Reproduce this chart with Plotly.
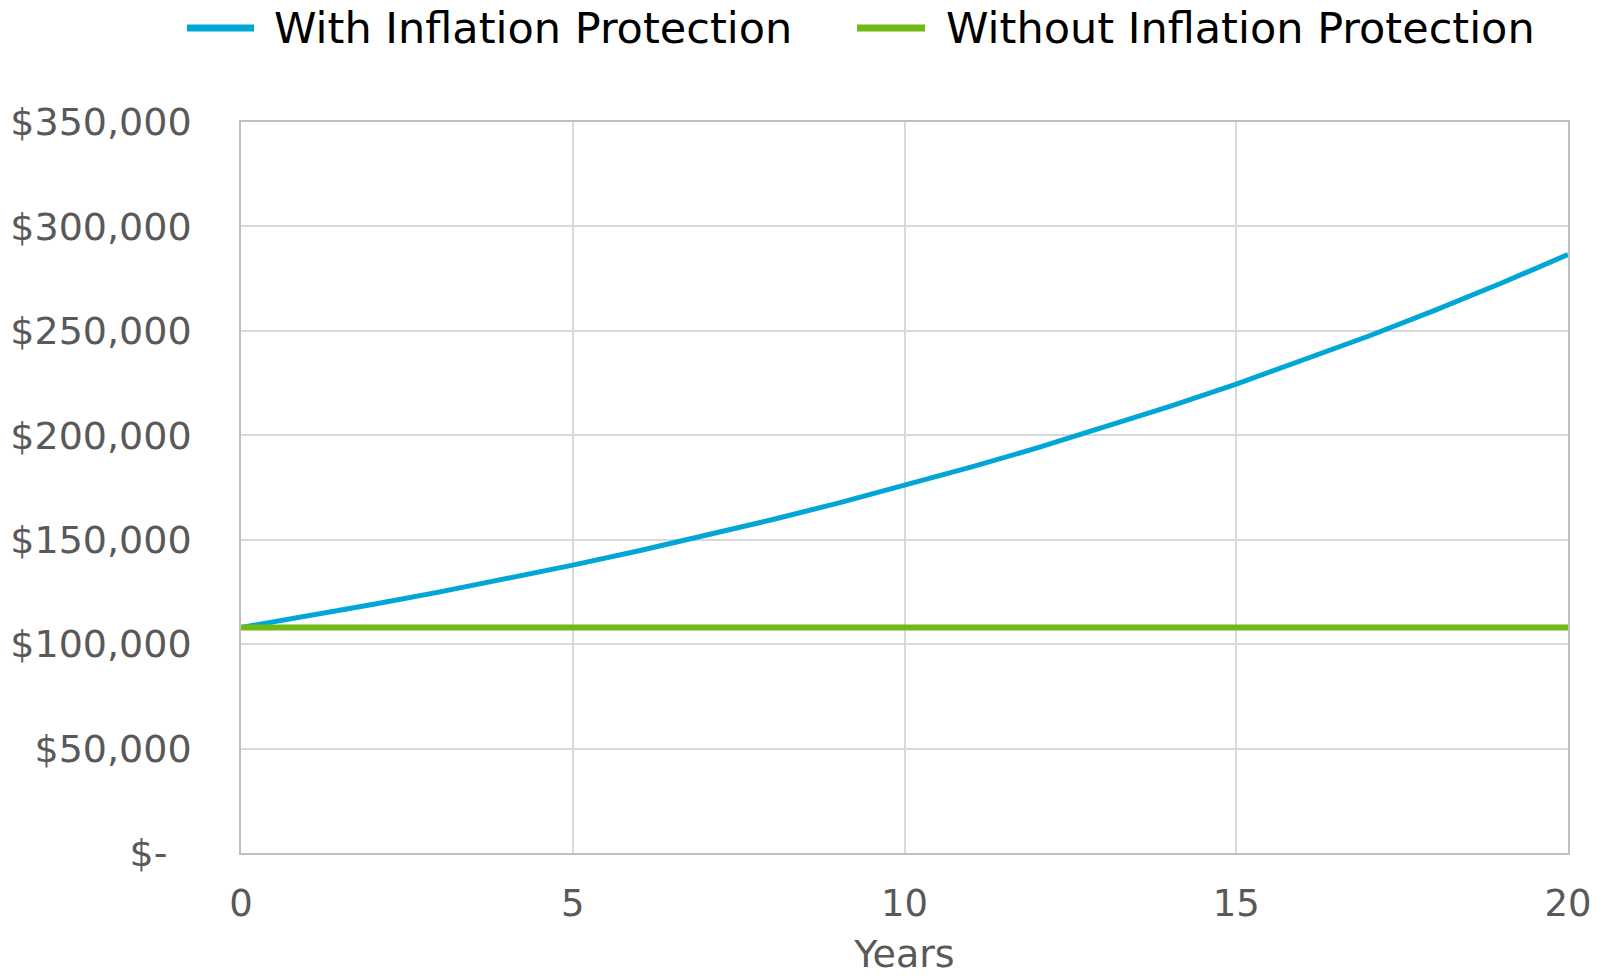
import plotly.graph_objects as go

years = list(range(0, 21))
with_protection = [108000, 113400, 119070, 125024, 131275, 137838, 144730, 151967,
                   159565, 167543, 175921, 184717, 193952, 203650, 213833, 224524,
                   235751, 247538, 259915, 272911, 286556]
without_protection = [108000] * 21

series_names = ["With Inflation Protection", "Without Inflation Protection"]
colors = ["#00A6D6", "#6FBA14"]

y_tickvals = [0, 50000, 100000, 150000, 200000, 250000, 300000, 350000]
y_ticktext = ["$-\u00a0\u00a0", "$50,000", "$100,000", "$150,000", "$200,000",
              "$250,000", "$300,000", "$350,000"]
x_tickvals = [0, 5, 10, 15, 20]

FONT = "DejaVu Sans"

fig = go.Figure()
fig.add_trace(go.Scatter(x=years, y=with_protection, mode="lines", name=series_names[0],
                         line=dict(color=colors[0], width=5), showlegend=False))
fig.add_trace(go.Scatter(x=years, y=without_protection, mode="lines", name=series_names[1],
                         line=dict(color=colors[1], width=6), showlegend=False))

L, R, T, B = 241, 38, 122, 123
W, H = 1606, 976
pw, ph = W - L - R, H - T - B

def px_x(p):
    return (p - L) / pw

def px_y(p):
    return (H - B - p) / ph

legend_y = px_y(28)
legend_items = [(187, 254, 272), (857, 925, 944)]
for (x0, x1, tx), name, c in zip(legend_items, series_names, colors):
    fig.add_shape(type="line", xref="paper", yref="paper", x0=px_x(x0), x1=px_x(x1),
                  y0=legend_y, y1=legend_y, line=dict(color=c, width=7))
    fig.add_annotation(xref="paper", yref="paper", x=px_x(tx), y=legend_y, text=name,
                       showarrow=False, xanchor="left", yanchor="middle",
                       font=dict(family=FONT, size=43, color="#000000"))

fig.update_layout(
    width=W, height=H,
    margin=dict(l=L, r=R, t=T, b=B, pad=0, autoexpand=False),
    paper_bgcolor="white", plot_bgcolor="white",
    font=dict(family=FONT, color="#595959"),
    showlegend=False,
)
fig.update_xaxes(range=[0, 20], tickvals=x_tickvals, showgrid=True, gridcolor="#D9D9D9",
                 gridwidth=1.5, zeroline=False, showline=True, linecolor="#BFBFBF", linewidth=1.5,
                 mirror=True, ticks="", automargin=False,
                 tickfont=dict(family=FONT, size=37, color="#595959"),
                 ticklabelstandoff=17,
                 title=dict(text="Years", font=dict(family=FONT, size=38, color="#595959"), standoff=19))
fig.update_yaxes(range=[0, 350000], tickvals=y_tickvals, ticktext=y_ticktext, showgrid=True,
                 gridcolor="#D9D9D9", gridwidth=1.5, zeroline=False, showline=True,
                 linecolor="#BFBFBF", linewidth=1.5, mirror=True, ticks="", automargin=False,
                 tickfont=dict(family=FONT, size=38, color="#595959"), ticklabelstandoff=40)

fig.write_html("out.html", config={"displayModeBar": False},
               post_script="document.body.style.margin='0';")
